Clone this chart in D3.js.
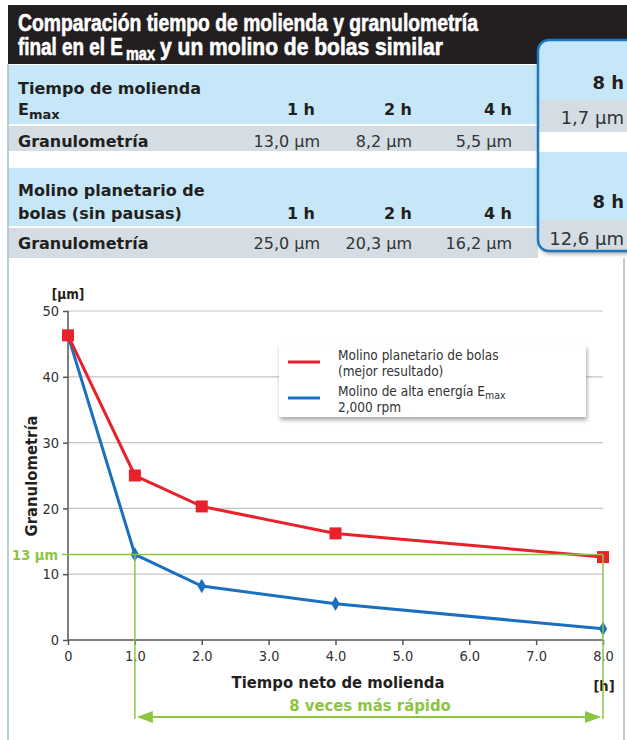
<!DOCTYPE html>
<html><head><meta charset="utf-8">
<script src="https://cdn.jsdelivr.net/npm/d3@7"></script>
<style>
html,body{margin:0;padding:0;background:#fff;}
svg{display:block;}
</style></head>
<body>
<svg id="c" width="627" height="740"></svg>
<script>
// ---------- DATA ----------
const hours = [0, 1, 2, 4, 8];
const planetario = [46.3, 25.0, 20.3, 16.2, 12.6];
const emax = [46.3, 13.0, 8.2, 5.5, 1.7];
const xTicks = [0, 1, 2, 3, 4, 5, 6, 7, 8];
const xTickLabels = ["0", "1.0", "2.0", "3.0", "4.0", "5.0", "6.0", "7.0", "8.0"];
const yTicks = [0, 10, 20, 30, 40, 50];
const tableHours = ["1 h", "2 h", "4 h"];
const tableEmax = ["13,0 µm", "8,2 µm", "5,5 µm"];
const tablePlanet = ["25,0 µm", "20,3 µm", "16,2 µm"];
const boxHour = "8 h";
const boxEmax = "1,7 µm";
const boxPlanet = "12,6 µm";
const targetSize = 13;       // 13 µm reference line
const targetFrom = 1, targetTo = 8;

// ---------- STYLE ----------
const RED = "#e8212a", BLUE = "#1b6fbf", GREEN = "#8cc540";
const LBLUE = "#c6e7f8", LGRAY = "#d4dde3";
const F = "'DejaVu Sans', Verdana, sans-serif";
const FC = "'DejaVu Sans Condensed', 'DejaVu Sans', sans-serif";
const FT = "'Liberation Sans Narrow', 'Liberation Sans', Arial, sans-serif";

const svg = d3.select("#c");
const defs = svg.append("defs");

// ---------- HEADER ----------
svg.append("rect").attr("x", 8).attr("y", 5).attr("width", 619).attr("height", 59).attr("fill", "#231f20");
function title(x, y, s, len, size) {
  const t = svg.append("text").attr("x", 0).attr("y", 0).attr("fill", "#fff")
    .attr("stroke", "#fff").attr("stroke-width", 0.6)
    .attr("font-family", FT).attr("font-weight", "bold").attr("font-size", size).text(s);
  const w = t.node().getComputedTextLength();
  t.attr("transform", `translate(${x},${y}) scale(${len / w},1)`);
  return t;
}
title(18, 31, "Comparación tiempo de molienda y granulometría", 460, 23.5);
title(18, 55, "final en el E", 105, 23.5);
title(126, 60, "max", 29, 18);
title(160, 55, "y un molino de bolas similar", 283, 23.5);

// table rows
svg.append("rect").attr("x", 8).attr("y", 65).attr("width", 530).attr("height", 59).attr("fill", LBLUE);
svg.append("rect").attr("x", 8).attr("y", 126).attr("width", 530).attr("height", 25).attr("fill", LGRAY);
svg.append("rect").attr("x", 8).attr("y", 168).attr("width", 530).attr("height", 58).attr("fill", LBLUE);
svg.append("rect").attr("x", 8).attr("y", 228).attr("width", 530).attr("height", 30).attr("fill", LGRAY);

function txt(x, y, s, opt = {}) {
  return svg.append("text").attr("x", x).attr("y", y)
    .attr("font-family", opt.family || F)
    .attr("font-size", opt.size || 16)
    .attr("font-weight", opt.weight || "normal")
    .attr("text-anchor", opt.anchor || "start")
    .attr("fill", opt.fill || "#231f20")
    .text(s);
}
txt(18, 94, "Tiempo de molienda", {weight: "bold"});
const em = txt(18, 115, "", {weight: "bold"});
em.append("tspan").text("E");
em.append("tspan").attr("font-size", 13).attr("dy", 4).text("max");
txt(18, 147, "Granulometría", {weight: "bold"});
txt(18, 196, "Molino planetario de", {weight: "bold"});
txt(18, 219, "bolas (sin pausas)", {weight: "bold"});
txt(18, 249, "Granulometría", {weight: "bold"});

const hdrX = [315, 412, 512];
const valX = [320, 412, 512];
tableHours.forEach((h, i) => {
  txt(hdrX[i], 115, h, {weight: "bold", anchor: "end"});
  txt(hdrX[i], 219, h, {weight: "bold", anchor: "end"});
});
tableEmax.forEach((v, i) => txt(valX[i], 147, v, {anchor: "end", fill: "#333"}));
tablePlanet.forEach((v, i) => txt(valX[i], 249, v, {anchor: "end", fill: "#333"}));

// highlighted 8 h box
const sh = defs.append("filter").attr("id", "sh").attr("x", "-20%").attr("y", "-20%").attr("width", "140%").attr("height", "140%");
sh.append("feGaussianBlur").attr("in", "SourceAlpha").attr("stdDeviation", 2);
sh.append("feOffset").attr("dx", 1).attr("dy", 3).attr("result", "o");
sh.append("feComponentTransfer").append("feFuncA").attr("type", "linear").attr("slope", 0.35);
const mg = sh.append("feMerge"); mg.append("feMergeNode"); mg.append("feMergeNode").attr("in", "SourceGraphic");

defs.append("clipPath").attr("id", "bx").append("rect")
  .attr("x", 538).attr("y", 40).attr("width", 110).attr("height", 211).attr("rx", 11);
svg.append("rect").attr("x", 538).attr("y", 40).attr("width", 110).attr("height", 211).attr("rx", 11)
  .attr("fill", LBLUE).attr("filter", "url(#sh)");
const bg = svg.append("g").attr("clip-path", "url(#bx)");
bg.append("rect").attr("x", 538).attr("y", 100).attr("width", 110).attr("height", 32).attr("fill", LGRAY);
bg.append("rect").attr("x", 538).attr("y", 132).attr("width", 110).attr("height", 20).attr("fill", "#fff");
bg.append("rect").attr("x", 538).attr("y", 220).attr("width", 110).attr("height", 31).attr("fill", LGRAY);
svg.append("rect").attr("x", 538).attr("y", 40).attr("width", 110).attr("height", 211).attr("rx", 11)
  .attr("fill", "none").attr("stroke", "#1b78c2").attr("stroke-width", 2.5);
txt(624, 89, boxHour, {weight: "bold", anchor: "end", size: 18});
txt(624, 124, boxEmax, {anchor: "end", size: 18, fill: "#333"});
txt(624, 208, boxHour, {weight: "bold", anchor: "end", size: 18});
txt(624, 245, boxPlanet, {anchor: "end", size: 18, fill: "#333"});

// outer frame lines
svg.append("line").attr("x1", 8).attr("x2", 8).attr("y1", 64).attr("y2", 740).attr("stroke", "#a6bfcf").attr("stroke-width", 1.5);
svg.append("line").attr("x1", 624).attr("x2", 624).attr("y1", 258).attr("y2", 740).attr("stroke", "#a6bfcf").attr("stroke-width", 1.5);

// ---------- CHART ----------
const x = d3.scaleLinear().domain([0, 8]).range([68, 603]);
const y = d3.scaleLinear().domain([0, 50]).range([640, 311]);

// grid
svg.append("g").selectAll("line").data(yTicks.filter(d => d > 0)).join("line")
  .attr("x1", x(0)).attr("x2", x(8)).attr("y1", d => y(d)).attr("y2", d => y(d))
  .attr("stroke", "#c4c4c4").attr("stroke-width", 1.2);

// axes
const yAxis = svg.append("g").attr("transform", `translate(${x(0)},0)`)
  .call(d3.axisLeft(y).tickValues(yTicks).tickSize(5).tickPadding(4));
const xAxis = svg.append("g").attr("transform", `translate(0,${y(0)})`)
  .call(d3.axisBottom(x).tickValues(xTicks).tickFormat((d, i) => xTickLabels[i]).tickSize(5).tickPadding(6));
[yAxis, xAxis].forEach(a => {
  a.select(".domain").attr("stroke", "#555").attr("stroke-width", 1.5);
  a.selectAll(".tick line").attr("stroke", "#555").attr("stroke-width", 1.5);
  a.selectAll(".tick text").attr("font-family", FC).attr("font-size", 14.5).attr("fill", "#333");
});
yAxis.select(".domain").attr("d", `M0,${y(0)}V${y(50)}`);
xAxis.select(".domain").attr("d", `M${x(0)},0H${x(8)}`);

// axis titles
txt(68, 299, "[µm]", {weight: "bold", anchor: "middle", size: 13.5, family: FC});
svg.append("text").attr("transform", `translate(37,${476}) rotate(-90)`)
  .attr("text-anchor", "middle").attr("font-family", FC).attr("font-weight", "bold")
  .attr("font-size", 16.5).attr("fill", "#231f20").text("Granulometría");
txt(338, 688, "Tiempo neto de molienda", {weight: "bold", anchor: "middle", size: 16.5, family: FC});
txt(604, 691, "[h]", {weight: "bold", anchor: "middle", size: 14.5, family: FC});

// legend
svg.append("rect").attr("x", 279).attr("y", 345).attr("width", 307).attr("height", 72)
  .attr("fill", "#fff").attr("filter", "url(#sh)");
svg.append("line").attr("x1", 288).attr("x2", 320).attr("y1", 362).attr("y2", 362).attr("stroke", RED).attr("stroke-width", 3);
svg.append("line").attr("x1", 288).attr("x2", 320).attr("y1", 398).attr("y2", 398).attr("stroke", BLUE).attr("stroke-width", 3);
const LS = 13.5;
txt(338, 360, "Molino planetario de bolas", {size: LS, family: FC, fill: "#333"});
txt(338, 376, "(mejor resultado)", {size: LS, family: FC, fill: "#333"});
const l3 = txt(338, 396, "", {size: LS, family: FC, fill: "#333"});
l3.append("tspan").text("Molino de alta energía E");
l3.append("tspan").attr("font-size", 10.5).attr("dy", 3).text("max");
txt(338, 412, "2,000 rpm", {size: LS, family: FC, fill: "#333"});

// series
const line = d3.line().x(d => x(d[0])).y(d => y(d[1]));
const redPts = hours.map((h, i) => [h, planetario[i]]);
const bluePts = hours.map((h, i) => [h, emax[i]]);
svg.append("path").datum(bluePts).attr("d", line).attr("fill", "none").attr("stroke", BLUE).attr("stroke-width", 3);
svg.append("path").datum(redPts).attr("d", line).attr("fill", "none").attr("stroke", RED).attr("stroke-width", 3);
svg.append("g").selectAll("rect").data(redPts).join("rect")
  .attr("x", d => x(d[0]) - 6).attr("y", d => y(d[1]) - 6).attr("width", 12).attr("height", 12).attr("fill", RED);
svg.append("g").selectAll("path").data(bluePts.slice(1)).join("path")
  .attr("d", d3.symbol().type(d3.symbolDiamond).size(60))
  .attr("transform", d => `translate(${x(d[0])},${y(d[1])})`).attr("fill", BLUE);

// green annotation
const g = svg.append("g").attr("stroke", GREEN).attr("stroke-width", 1.5).attr("fill", "none");
g.append("line").attr("x1", 62).attr("x2", x(targetTo)).attr("y1", y(targetSize)).attr("y2", y(targetSize));
g.append("line").attr("x1", x(targetFrom)).attr("x2", x(targetFrom)).attr("y1", y(targetSize)).attr("y2", 719);
g.append("line").attr("x1", x(targetTo)).attr("x2", x(targetTo)).attr("y1", y(targetSize)).attr("y2", 719);
const ay = 717;
g.append("line").attr("x1", x(targetFrom) + 4).attr("x2", x(targetTo) - 4).attr("y1", ay).attr("y2", ay).attr("stroke-width", 2);
svg.append("path").attr("fill", GREEN)
  .attr("d", `M${x(targetFrom) + 2},${ay} l16,-6 v12 Z M${x(targetTo) - 2},${ay} l-16,-6 v12 Z`);
txt(58, 560, "13 µm", {weight: "bold", anchor: "end", size: 14.5, family: FC, fill: GREEN});
txt(370, 711, "8 veces más rápido", {weight: "bold", anchor: "middle", size: 16.5, family: FC, fill: GREEN});
</script>
</body></html>
